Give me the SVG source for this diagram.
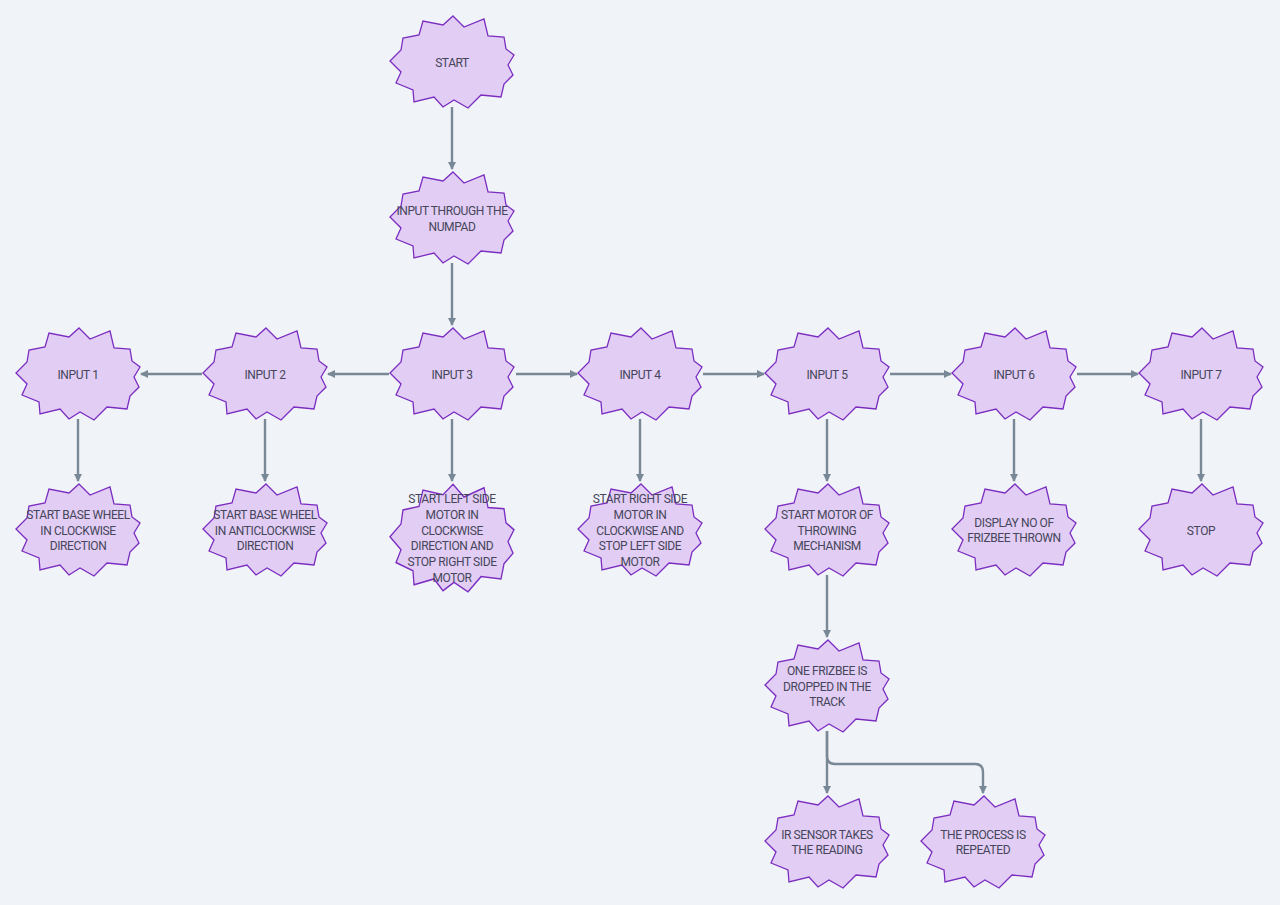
<svg xmlns="http://www.w3.org/2000/svg" width="1280" height="905" viewBox="0 0 1280 905">
<style>
.bg{fill:#f0f3f7}
.burst{fill:#e2cdf4;stroke:#7a2dc0;stroke-width:1.3;stroke-linejoin:miter}
.lbl{font-family:Roboto,"Liberation Sans",sans-serif;font-size:12px;letter-spacing:-0.4px;fill:#45465a;text-anchor:middle}
.edge{fill:none;stroke:#788896;stroke-width:2.4}
</style>
<defs>
<polygon id="burst" points="1,-46 12,-35 32,-43 36,-26 52,-25 54,-13 62,-7 56,3 61,13 52,22 49,35 29,33 16,46 2,38 -9,45 -18,35 -38,40 -39,28 -56,21 -51,10 -62,-1 -51,-12 -49,-24 -33,-27 -29,-41 -9,-37"/>
<marker id="arr" viewBox="0 0 8 8" refX="7" refY="4" markerWidth="8" markerHeight="8" markerUnits="userSpaceOnUse" orient="auto">
<path d="M0,0 L8,4 L0,8 z" fill="#788896"/>
</marker>
</defs>
<rect class="bg" x="0" y="0" width="1280" height="905"/>
<g id="connectors">
<path class="edge" marker-end="url(#arr)" d="M452,107 V169"/>
<path class="edge" marker-end="url(#arr)" d="M452,263 V325"/>
<path class="edge" marker-end="url(#arr)" d="M389,374 H328"/>
<path class="edge" marker-end="url(#arr)" d="M202,374 H141"/>
<path class="edge" marker-end="url(#arr)" d="M516,374 H577"/>
<path class="edge" marker-end="url(#arr)" d="M703,374 H764"/>
<path class="edge" marker-end="url(#arr)" d="M890,374 H951"/>
<path class="edge" marker-end="url(#arr)" d="M1077,374 H1138"/>
<path class="edge" marker-end="url(#arr)" d="M78,419 V481"/>
<path class="edge" marker-end="url(#arr)" d="M265,419 V481"/>
<path class="edge" marker-end="url(#arr)" d="M452,419 V481"/>
<path class="edge" marker-end="url(#arr)" d="M640,419 V481"/>
<path class="edge" marker-end="url(#arr)" d="M827,419 V481"/>
<path class="edge" marker-end="url(#arr)" d="M1014,419 V481"/>
<path class="edge" marker-end="url(#arr)" d="M1201,419 V481"/>
<path class="edge" marker-end="url(#arr)" d="M827,575 V637"/>
<path class="edge" marker-end="url(#arr)" d="M827,731 V793"/>
<path class="edge" marker-end="url(#arr)" d="M827,731 V756 Q827,764 835,764 H975 Q983,764 983,772 V793"/>
</g>
<g id="start"><use href="#burst" class="burst" transform="translate(452,62)"/><text class="lbl" x="452" y="67">START</text></g>
<g id="numpad"><use href="#burst" class="burst" transform="translate(452,218)"/><text class="lbl" x="452" y="215">INPUT THROUGH THE</text><text class="lbl" x="452" y="231">NUMPAD</text></g>
<g id="input1"><use href="#burst" class="burst" transform="translate(78,374)"/><text class="lbl" x="78" y="379">INPUT 1</text></g>
<g id="input2"><use href="#burst" class="burst" transform="translate(265,374)"/><text class="lbl" x="265" y="379">INPUT 2</text></g>
<g id="input3"><use href="#burst" class="burst" transform="translate(452,374)"/><text class="lbl" x="452" y="379">INPUT 3</text></g>
<g id="input4"><use href="#burst" class="burst" transform="translate(640,374)"/><text class="lbl" x="640" y="379">INPUT 4</text></g>
<g id="input5"><use href="#burst" class="burst" transform="translate(827,374)"/><text class="lbl" x="827" y="379">INPUT 5</text></g>
<g id="input6"><use href="#burst" class="burst" transform="translate(1014,374)"/><text class="lbl" x="1014" y="379">INPUT 6</text></g>
<g id="input7"><use href="#burst" class="burst" transform="translate(1201,374)"/><text class="lbl" x="1201" y="379">INPUT 7</text></g>
<g id="wheel-cw"><use href="#burst" class="burst" transform="translate(78,530)"/><text class="lbl" x="78" y="519">START BASE WHEEL</text><text class="lbl" x="78" y="535">IN CLOCKWISE</text><text class="lbl" x="78" y="550">DIRECTION</text></g>
<g id="wheel-acw"><use href="#burst" class="burst" transform="translate(265,530)"/><text class="lbl" x="265" y="519">START BASE WHEEL</text><text class="lbl" x="265" y="535">IN ANTICLOCKWISE</text><text class="lbl" x="265" y="550">DIRECTION</text></g>
<g id="left-motor"><use href="#burst" class="burst" transform="translate(452,538) scale(1,1.17)"/><text class="lbl" x="452" y="503">START LEFT SIDE</text><text class="lbl" x="452" y="519">MOTOR IN</text><text class="lbl" x="452" y="535">CLOCKWISE</text><text class="lbl" x="452" y="550">DIRECTION AND</text><text class="lbl" x="452" y="566">STOP RIGHT SIDE</text><text class="lbl" x="452" y="582">MOTOR</text></g>
<g id="right-motor"><use href="#burst" class="burst" transform="translate(640,530)"/><text class="lbl" x="640" y="503">START RIGHT SIDE</text><text class="lbl" x="640" y="519">MOTOR IN</text><text class="lbl" x="640" y="535">CLOCKWISE AND</text><text class="lbl" x="640" y="550">STOP LEFT SIDE</text><text class="lbl" x="640" y="566">MOTOR</text></g>
<g id="throwing"><use href="#burst" class="burst" transform="translate(827,530)"/><text class="lbl" x="827" y="519">START MOTOR OF</text><text class="lbl" x="827" y="535">THROWING</text><text class="lbl" x="827" y="550">MECHANISM</text></g>
<g id="display"><use href="#burst" class="burst" transform="translate(1014,530)"/><text class="lbl" x="1014" y="527">DISPLAY NO OF</text><text class="lbl" x="1014" y="542">FRIZBEE THROWN</text></g>
<g id="stop"><use href="#burst" class="burst" transform="translate(1201,530)"/><text class="lbl" x="1201" y="535">STOP</text></g>
<g id="dropped"><use href="#burst" class="burst" transform="translate(827,686)"/><text class="lbl" x="827" y="675">ONE FRIZBEE IS</text><text class="lbl" x="827" y="691">DROPPED IN THE</text><text class="lbl" x="827" y="706">TRACK</text></g>
<g id="ir-sensor"><use href="#burst" class="burst" transform="translate(827,842)"/><text class="lbl" x="827" y="839">IR SENSOR TAKES</text><text class="lbl" x="827" y="854">THE READING</text></g>
<g id="repeated"><use href="#burst" class="burst" transform="translate(983,842)"/><text class="lbl" x="983" y="839">THE PROCESS IS</text><text class="lbl" x="983" y="854">REPEATED</text></g>
</svg>
